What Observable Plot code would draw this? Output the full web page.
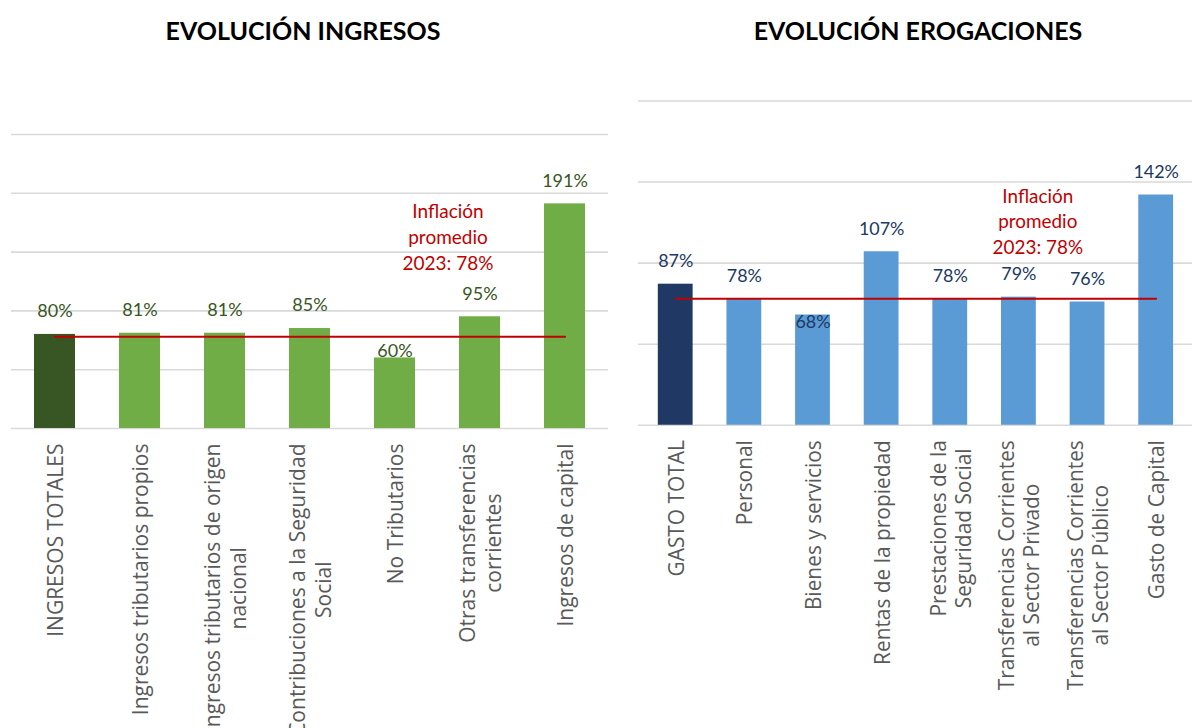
<!DOCTYPE html>
<html><head><meta charset="utf-8">
<script src="https://cdn.jsdelivr.net/npm/d3@7"></script>
<script src="https://cdn.jsdelivr.net/npm/@observablehq/plot@0.6"></script>
<style>
html,body{margin:0;padding:0;background:#fff;width:1192px;height:728px;overflow:hidden;}
#wrap{position:relative;width:1192px;height:728px;overflow:hidden;}
.title{position:absolute;top:15px;font:bold 25px Lato, sans-serif;color:#000;text-align:center;white-space:nowrap;}
.panel{position:absolute;top:0;}
</style></head><body>
<div id="wrap">
<div class="panel" id="left" style="left:0"></div>
<div class="panel" id="right" style="left:620px"></div>
<div class="title" style="left:3px;width:600px">EVOLUCIÓN INGRESOS</div>
<div class="title" style="left:618px;width:600px">EVOLUCIÓN EROGACIONES</div>
</div>
<script>
// ---- Data ----
const ingresosCategorias = ["INGRESOS TOTALES", "Ingresos tributarios propios", "Ingresos tributarios de origen nacional", "Contribuciones a la Seguridad Social", "No Tributarios", "Otras transferencias corrientes", "Ingresos de capital"];
const ingresosEtiquetas = ["INGRESOS TOTALES", "Ingresos tributarios propios", "Ingresos tributarios de origen\nnacional", "Contribuciones a la Seguridad\nSocial", "No Tributarios", "Otras transferencias\ncorrientes", "Ingresos de capital"];
const ingresosValores = [80, 81, 81, 85, 60, 95, 191];
const ingresosTicks = [0, 50, 100, 150, 200, 250];

const erogacionesCategorias = ["GASTO TOTAL", "Personal", "Bienes y servicios", "Rentas de la propiedad", "Prestaciones de la Seguridad Social", "Transferencias Corrientes al Sector Privado", "Transferencias Corrientes al Sector Público", "Gasto de Capital"];
const erogacionesEtiquetas = ["GASTO TOTAL", "Personal", "Bienes y servicios", "Rentas de la propiedad", "Prestaciones de la\nSeguridad Social", "Transferencias Corrientes\nal Sector Privado", "Transferencias Corrientes\nal Sector Público", "Gasto de Capital"];
const erogacionesValores = [87, 78, 68, 107, 78, 79, 76, 142];
const erogacionesTicks = [0, 50, 100, 150, 200];

const inflacion = 78;
const inflacionTexto = "Inflación\npromedio\n2023: 78%";

function panel(o) {
  const data = o.cats.map((c, i) => ({name: c, label: o.labels[i], value: o.vals[i], total: i === 0}));
  const isLow = d => o.lowNames.includes(d.name);
  const plot = Plot.plot({
    width: o.width, height: 728,
    marginLeft: o.marginLeft, marginRight: o.marginRight, marginTop: o.marginTop, marginBottom: o.marginBottom,
    style: {background: "transparent", overflow: "visible", fontFamily: "Lato, sans-serif"},
    x: {domain: o.cats, axis: null, paddingInner: o.pad, paddingOuter: o.pad / 2},
    y: {domain: [0, o.ticks[o.ticks.length - 1]], axis: null},
    color: {type: "identity"},
    marks: [
      Plot.gridY(o.ticks, {stroke: "#d9d9d9", strokeOpacity: 1, strokeWidth: 1.6}),
      Plot.barY(data, {x: "name", y: "value", fill: d => d.total ? o.totalColor : o.barColor}),
      Plot.line([{x: o.cats[0], y: inflacion}, {x: o.cats[o.cats.length - 1], y: inflacion}],
        {x: "x", y: "y", stroke: "#C00000", strokeWidth: 2}),
      Plot.text(data.filter(d => !isLow(d)), {x: "name", y: "value", text: d => d.value + "%", dy: -23,
        fill: o.labelColor, fontSize: 18, fontFamily: "Lato"}),
      Plot.text(data.filter(isLow), {x: "name", y: "value", text: d => d.value + "%", dy: o.lowDy,
        fill: o.labelColor, fontSize: 18, fontFamily: "Lato"}),
      Plot.text([{x: o.annotCat, y: inflacion, t: inflacionTexto}], {x: "x", y: "y", text: "t",
        dx: o.annotDx, dy: o.annotDy, lineAnchor: "middle", lineHeight: 1.35,
        fill: "#C00000", fontSize: 19, fontFamily: "Lato"}),
      Plot.text(data, {x: "name", frameAnchor: "bottom", text: "label", rotate: -90,
        textAnchor: "end", lineAnchor: "middle", dy: 15, lineHeight: 1.2,
        fill: "#595959", fontSize: 21, fontFamily: "Open Sans"})
    ]
  });
  document.getElementById(o.target).appendChild(plot);
  // center continuation lines of rotated multi-line labels under their first line
  plot.querySelectorAll("text").forEach(t => {
    const tr = t.getAttribute("transform") || "";
    if (!tr.includes("rotate(-90)")) return;
    const spans = t.querySelectorAll("tspan");
    if (spans.length < 2) return;
    const L1 = spans[0].getComputedTextLength();
    for (let k = 1; k < spans.length; k++) {
      const L2 = spans[k].getComputedTextLength();
      spans[k].setAttribute("x", (L2 - L1) / 2);
    }
  });
}

panel({target: "left", cats: ingresosCategorias, labels: ingresosEtiquetas, vals: ingresosValores, ticks: ingresosTicks,
  width: 620, marginLeft: 11, marginRight: 12, marginTop: 134, marginBottom: 300, pad: 0.52,
  totalColor: "#375623", barColor: "#70AD47", labelColor: "#375623",
  lowNames: ["No Tributarios"], lowDy: -7,
  annotCat: "Otras transferencias corrientes", annotDx: -32, annotDy: -101});

panel({target: "right", cats: erogacionesCategorias, labels: erogacionesEtiquetas, vals: erogacionesValores, ticks: erogacionesTicks,
  width: 575, marginLeft: 18, marginRight: 0, marginTop: 101, marginBottom: 301, pad: 0.5,
  totalColor: "#203864", barColor: "#5B9BD5", labelColor: "#203864",
  lowNames: ["Bienes y servicios"], lowDy: 7,
  annotCat: "Transferencias Corrientes al Sector Privado", annotDx: 19, annotDy: -79});
</script>
</body></html>
